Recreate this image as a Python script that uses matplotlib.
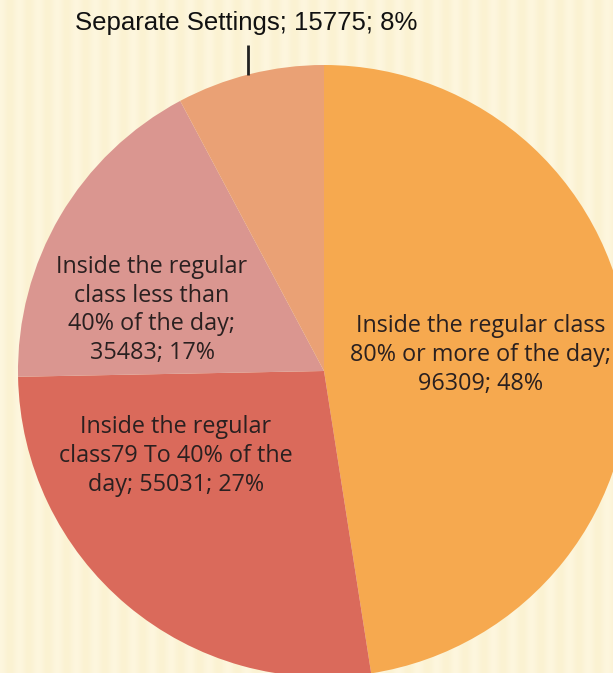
import numpy as np
import matplotlib
matplotlib.use("Agg")
import matplotlib.pyplot as plt

# ---- data ----
categories = [
    "Inside the regular class\n80% or more of the day;",
    "Inside the regular\nclass79 To 40% of the\nday;",
    "Inside the regular\nclass less than\n40% of the day;",
    "Separate Settings;",
]
values = [96309, 55031, 35483, 15775]
percent_labels = ["48%", "27%", "17%", "8%"]
colors = ["#F6A94F", "#DA6A5B", "#DA9690", "#EAA175"]
label_seps = ["\n", " ", "\n", " "]

W, H = 613, 673
fig = plt.figure(figsize=(W / 100, H / 100), dpi=100)
ax = fig.add_axes([0, 0, 1, 1])

# striped cream background (decoration)
xs = np.linspace(0, W, W)
stripe = 0.5 + 0.5 * np.cos(2 * np.pi * xs / 19.0)
base = np.array([251, 242, 210]) / 255.0
light = np.array([255, 249, 230]) / 255.0
img = base[None, :] * (1 - stripe[:, None] * 0.6) + light[None, :] * (stripe[:, None] * 0.6)
img = np.tile(img[None, :, :], (2, 1, 1))
ax.imshow(img, extent=[0, W, 0, H], aspect="auto", zorder=0)

cx, cy, r = 324, H - 371, 306
wedges, _ = ax.pie(values, colors=colors, startangle=90, counterclock=False,
                   center=(cx, cy), radius=r, frame=True,
                   wedgeprops=dict(linewidth=0))
for w in wedges:
    w.set_zorder(2)
ax.set_xlim(0, W)
ax.set_ylim(0, H)
ax.set_aspect("equal")
ax.axis("off")

font = ["Open Sans", "DejaVu Sans"]
txtc = "#2a2020"
fs = 16.8

def lab(i):
    return f"{categories[i]}{label_seps[i]}{values[i]}; {percent_labels[i]}"

ax.text(481, H - 355, lab(0), ha="center", va="center", fontsize=fs,
        family=font, color=txtc, linespacing=1.27, zorder=3)
ax.text(176, H - 456, lab(1), ha="center", va="center", fontsize=fs,
        family=font, color=txtc, linespacing=1.27, zorder=3)
ax.text(152, H - 310, lab(2), ha="center", va="center", fontsize=fs,
        family=font, color=txtc, linespacing=1.27, zorder=3)

# outside label for smallest slice
ax.text(246, H - 23, lab(3),
        ha="center", va="center", fontsize=18.5,
        family=["Liberation Sans Narrow", "Liberation Sans", "DejaVu Sans"],
        color="#111111", zorder=3)
ax.plot([248, 248], [H - 45, H - 75], color="#222222", lw=2, zorder=3,
        solid_capstyle="butt")

fig.savefig("out.png", dpi=100)
